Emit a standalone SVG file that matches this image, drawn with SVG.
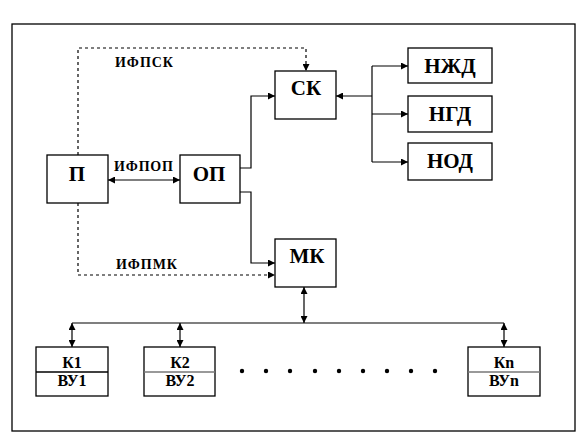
<svg xmlns="http://www.w3.org/2000/svg" width="588" height="433" viewBox="0 0 588 433">
<defs>
<marker id="ah" viewBox="0 0 10 10" refX="10" refY="5" markerWidth="7" markerHeight="7" markerUnits="userSpaceOnUse" orient="auto-start-reverse">
<path d="M0,0 L10,5 L0,10 z" fill="#000"/>
</marker>
<style>
.box{fill:#fff;stroke:#000;stroke-width:1.3}
.ln{fill:none;stroke:#000;stroke-width:1.2}
.ds{fill:none;stroke:#000;stroke-width:1.2;stroke-dasharray:3,3}
</style>
</defs>
<rect x="0" y="0" width="588" height="433" fill="#fff"/>
<rect x="12" y="24" width="563" height="407" fill="none" stroke="#000" stroke-width="1.3"/>

<g id="connectors">
<polyline class="ds" points="78,155 78,48 306,48 306,71" marker-end="url(#ah)"/>
<polyline class="ds" points="78,203 78,275 275,275" marker-end="url(#ah)"/>
<line class="ln" x1="108" y1="180" x2="180" y2="180" marker-start="url(#ah)" marker-end="url(#ah)"/>
<polyline class="ln" points="240,168 251,168 251,96 275,96" marker-end="url(#ah)"/>
<polyline class="ln" points="240,192 251,192 251,263 275,263" marker-end="url(#ah)"/>
<line class="ln" x1="372" y1="96" x2="336" y2="96" marker-end="url(#ah)"/>
<line class="ln" x1="372" y1="66" x2="372" y2="162"/>
<line class="ln" x1="372" y1="66" x2="408" y2="66" marker-end="url(#ah)"/>
<line class="ln" x1="372" y1="114" x2="408" y2="114" marker-end="url(#ah)"/>
<line class="ln" x1="372" y1="162" x2="408" y2="162" marker-end="url(#ah)"/>
<line class="ln" x1="72" y1="323" x2="504" y2="323"/>
<line class="ln" x1="304" y1="287" x2="304" y2="323" marker-start="url(#ah)" marker-end="url(#ah)"/>
<line class="ln" x1="72" y1="323" x2="72" y2="347" marker-start="url(#ah)" marker-end="url(#ah)"/>
<line class="ln" x1="180" y1="323" x2="180" y2="347" marker-start="url(#ah)" marker-end="url(#ah)"/>
<line class="ln" x1="504" y1="323" x2="504" y2="347" marker-start="url(#ah)" marker-end="url(#ah)"/>
</g>

<g id="labels">
<text x="115" y="67" font-family="Liberation Serif" font-weight="bold" font-size="14" textLength="58">ИФПСК</text>
<text x="114" y="171" font-family="Liberation Serif" font-weight="bold" font-size="14" textLength="59">ИФПОП</text>
<text x="116" y="269" font-family="Liberation Serif" font-weight="bold" font-size="14" textLength="61">ИФПМК</text>
</g>

<g id="P"><rect class="box" x="47" y="155" width="61" height="48"/><text x="77" y="181" font-family="Liberation Serif" font-weight="bold" font-size="21" text-anchor="middle">П</text></g>
<g id="OP"><rect class="box" x="180" y="155" width="60" height="48"/><text x="209" y="181" font-family="Liberation Serif" font-weight="bold" font-size="21" text-anchor="middle">ОП</text></g>
<g id="SK"><rect class="box" x="275" y="71" width="61" height="48"/><text x="306" y="95" font-family="Liberation Serif" font-weight="bold" font-size="21" text-anchor="middle">СК</text></g>
<g id="NZhD"><rect class="box" x="408" y="48" width="84" height="35"/><text x="450" y="73" font-family="Liberation Serif" font-weight="bold" font-size="21" text-anchor="middle">НЖД</text></g>
<g id="NGD"><rect class="box" x="408" y="96" width="84" height="36"/><text x="450" y="121" font-family="Liberation Serif" font-weight="bold" font-size="21" text-anchor="middle">НГД</text></g>
<g id="NOD"><rect class="box" x="408" y="143" width="84" height="37"/><text x="450" y="168" font-family="Liberation Serif" font-weight="bold" font-size="21" text-anchor="middle">НОД</text></g>
<g id="MK"><rect class="box" x="275" y="239" width="61" height="48"/><text x="307" y="263" font-family="Liberation Serif" font-weight="bold" font-size="21" text-anchor="middle">МК</text></g>

<g id="K1"><rect class="box" x="36" y="347" width="72" height="49"/><line x1="36" y1="372" x2="108" y2="372" stroke="#000" stroke-width="1.3"/><text x="72" y="368" font-family="Liberation Serif" font-weight="bold" font-size="16" text-anchor="middle">К1</text><text x="72" y="386" font-family="Liberation Serif" font-weight="bold" font-size="16" text-anchor="middle">ВУ1</text></g>
<g id="K2"><rect class="box" x="144" y="347" width="71" height="49"/><line x1="144" y1="372" x2="215" y2="372" stroke="#777" stroke-width="1.3"/><text x="180" y="368" font-family="Liberation Serif" font-weight="bold" font-size="16" text-anchor="middle">К2</text><text x="180" y="386" font-family="Liberation Serif" font-weight="bold" font-size="16" text-anchor="middle">ВУ2</text></g>
<g id="Kn"><rect class="box" x="468" y="347" width="72" height="49"/><line x1="468" y1="372" x2="540" y2="372" stroke="#777" stroke-width="1.3"/><text x="504" y="368" font-family="Liberation Serif" font-weight="bold" font-size="16" text-anchor="middle">Кn</text><text x="504" y="386" font-family="Liberation Serif" font-weight="bold" font-size="16" text-anchor="middle">ВУn</text></g>

<g id="dots" fill="#000">
<circle cx="242" cy="371" r="2.2"/><circle cx="266" cy="371" r="2.2"/><circle cx="290" cy="371" r="2.2"/>
<circle cx="315" cy="371" r="2.2"/><circle cx="339" cy="371" r="2.2"/><circle cx="363" cy="371" r="2.2"/>
<circle cx="387" cy="371" r="2.2"/><circle cx="411" cy="371" r="2.2"/><circle cx="435" cy="371" r="2.2"/>
</g>
</svg>
